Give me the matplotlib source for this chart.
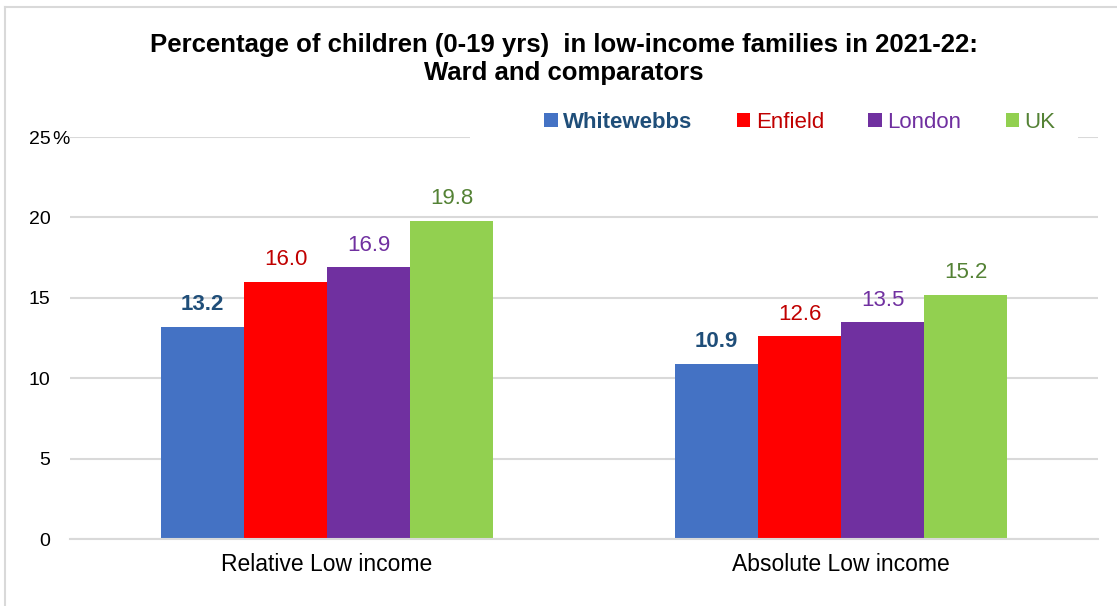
import matplotlib
matplotlib.use("Agg")
import matplotlib.pyplot as plt
from matplotlib.lines import Line2D
from matplotlib.patches import Rectangle
import numpy as np

plt.rcParams['font.family'] = ['Liberation Sans', 'DejaVu Sans']

categories = ["Relative Low income", "Absolute Low income"]
series_names = ["Whitewebbs", "Enfield", "London", "UK"]
whitewebbs = [13.2, 10.9]
enfield = [16.0, 12.6]
london = [16.9, 13.5]
uk = [19.8, 15.2]
series_values = [whitewebbs, enfield, london, uk]
yticks = [0, 5, 10, 15, 20, 25]

bar_colors = ["#4472C4", "#FF0000", "#7030A0", "#92D050"]
text_colors = ["#1F4E79", "#C00000", "#7030A0", "#548235"]
label_weights = ["bold", "normal", "normal", "normal"]

fig = plt.figure(figsize=(11.17, 6.06), dpi=100)
ax = fig.add_axes([70/1117, 1-539/606, 1028/1117, 402/606])

x = np.arange(len(categories))
w = 0.1615
for i, (name, vals) in enumerate(zip(series_names, series_values)):
    offs = (i - 1.5) * w
    ax.bar(x + offs, vals, width=w, color=bar_colors[i], label=name, zorder=2)
    for xi, v in zip(x + offs, vals):
        ax.text(xi, v + 0.7, f"{v:.1f}", ha="center", va="bottom",
                fontsize=16, color=text_colors[i], fontweight=label_weights[i])

ax.set_xlim(-0.5, 1.5)
ax.set_ylim(0, 25)
ax.set_yticks(yticks)
ax.set_yticklabels([str(t) for t in yticks], fontsize=14)
ax.set_xticks(x)
ax.set_xticklabels(categories, fontsize=16.5)
ax.tick_params(axis="both", length=0)
ax.tick_params(axis="y", pad=14)
ax.tick_params(axis="x", pad=10)
ax.grid(axis="y", color="#D9D9D9", linewidth=1.5, zorder=0)
ax.set_axisbelow(True)
for s in ["top", "right", "left"]:
    ax.spines[s].set_visible(False)
ax.spines["bottom"].set_color("#D9D9D9")
ax.spines["bottom"].set_linewidth(1.5)

fig.text(52/1117, 1-139/606, "%", fontsize=14, ha="left", va="center")

fig.text(0.505, 1-45/606, "Percentage of children (0-19 yrs)  in low-income families in 2021-22:",
         fontsize=18.5, fontweight="bold", ha="center", va="center")
fig.text(0.505, 1-73/606, "Ward and comparators",
         fontsize=18.5, fontweight="bold", ha="center", va="center")

# white area behind legend covering the top gridline
ax.add_patch(Rectangle((470/1117, 1-150/606), (1078-470)/1117, 40/606,
                       transform=fig.transFigure, facecolor="white", edgecolor="none",
                       zorder=4, clip_on=False))

leg = ax.legend(loc="center", bbox_to_anchor=(800/1117, 1-122/606), bbox_transform=fig.transFigure,
                ncol=4, frameon=False, fontsize=16, handlelength=0.6, handleheight=0.6,
                handletextpad=0.25, columnspacing=2.0, borderpad=0.3)
for t, c, wt in zip(leg.get_texts(), text_colors, label_weights):
    t.set_color(c)
    t.set_fontweight(wt)

# figure border (left & top visible)
fig.add_artist(Line2D([5/1117, 5/1117], [0, 1-7/606], transform=fig.transFigure, color="#D9D9D9", linewidth=1.5))
fig.add_artist(Line2D([5/1117, 1], [1-7/606, 1-7/606], transform=fig.transFigure, color="#D9D9D9", linewidth=1.5))

fig.savefig("out.png", dpi=100)
